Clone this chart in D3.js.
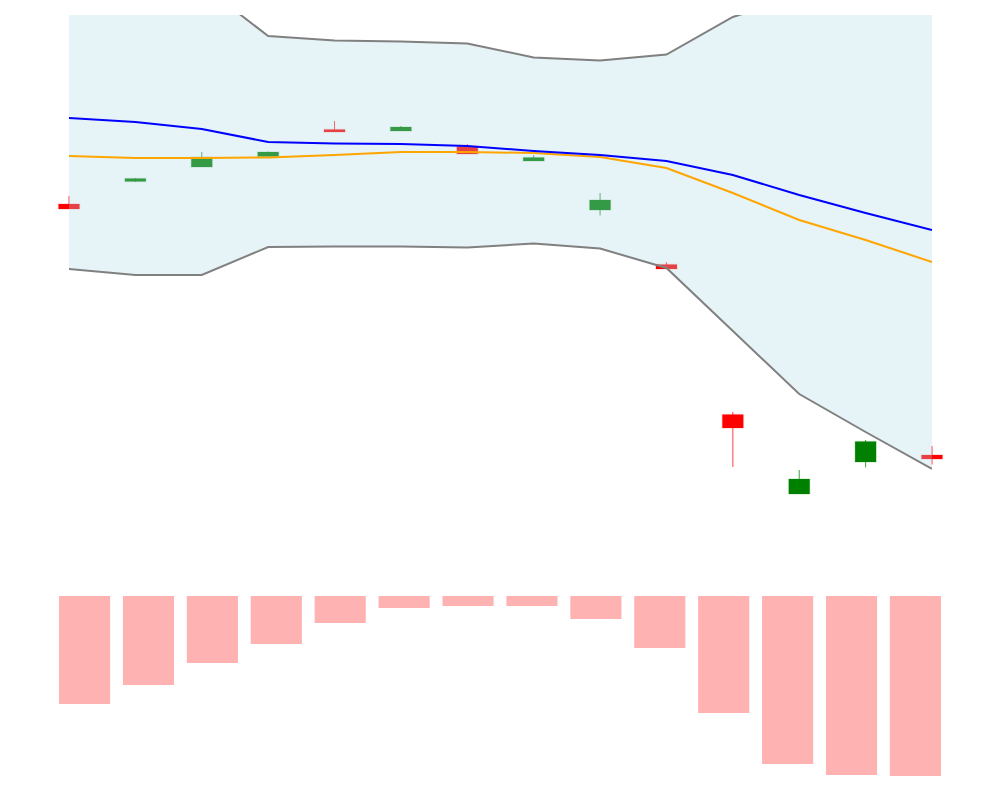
<!DOCTYPE html>
<html>
<head>
<meta charset="utf-8">
<script src="https://cdn.jsdelivr.net/npm/d3@7"></script>
<style>
  html, body { margin: 0; padding: 0; background: #fff; }
  svg { display: block; }
</style>
</head>
<body>
<svg id="chart" width="1000" height="800"></svg>
<script>
// ---- data ----
const days = ["1","2","3","4","5","6","7","8","9","10","11","12","13","14"];
const openV  = [39.6, 41.85, 43.3, 44.35, 47.05, 46.9, 45.35, 43.9, 39.0, 33.55, 18.55, 10.6, 13.8, 14.5];
const closeV = [39.1, 42.15, 44.3, 44.8, 46.8, 47.3, 44.6, 44.25, 40.0, 33.1, 17.2, 12.1, 15.85, 14.1];
const highV  = [40.4, 42.2, 44.8, 44.85, 47.9, 47.4, 45.6, 44.5, 40.7, 33.8, 18.8, 13.0, 16.0, 15.4];
const lowV   = [39.1, 41.8, 43.3, 44.35, 46.8, 46.9, 44.6, 43.9, 38.45, 33.1, 13.3, 10.6, 13.25, 13.55];
const upperBand  = [63.3, 63.1, 61.5, 56.4, 55.95, 55.85, 55.65, 54.25, 53.95, 54.55, 58.3, 60.4, 60.6, 60.9];
const middleBand = [48.2, 47.8, 47.1, 45.8, 45.65, 45.6, 45.4, 44.9, 44.5, 43.9, 42.5, 40.5, 38.7, 37.0];
const lowerBand  = [33.1, 32.5, 32.5, 35.3, 35.35, 35.35, 35.25, 35.65, 35.15, 33.2, 26.9, 20.6, 16.8, 13.1];
const maFast     = [44.4, 44.2, 44.2, 44.25, 44.5, 44.8, 44.8, 44.7, 44.3, 43.2, 40.7, 38.0, 36.0, 33.8];
const histValues = [-1.08, -0.89, -0.67, -0.48, -0.27, -0.12, -0.10, -0.10, -0.23, -0.52, -1.17, -1.68, -1.79, -1.80];

// ---- scales ----
const svg = d3.select("#chart");
const x  = d3.scalePoint().domain(days).range([69, 932]);
const xb = d3.scaleBand().domain(days).range([59, 941]).paddingInner(0.2);
const y  = d3.scaleLinear().domain([8.5, 58.5]).range([515, 15]);
const yv = d3.scaleLinear().domain([-1.8, 0]).range([776, 596]);

const candleW = 21;
const candles = days.map((d, i) => ({d, o: openV[i], c: closeV[i], h: highV[i], l: lowV[i]}));

// clip for band/lines
svg.append("defs").append("clipPath").attr("id", "plotClip")
  .append("rect").attr("x", x(days[0])).attr("y", 15)
  .attr("width", x(days[days.length - 1]) - x(days[0])).attr("height", 560);

// ---- candles ----
const cg = svg.append("g");
cg.selectAll("line.wick").data(candles).join("line")
  .attr("class", "wick")
  .attr("x1", d => x(d.d)).attr("x2", d => x(d.d))
  .attr("y1", d => y(d.h)).attr("y2", d => y(d.l))
  .attr("stroke", d => d.c >= d.o ? "green" : "red")
  .attr("stroke-opacity", 0.75)
  .attr("stroke-width", 1);
cg.selectAll("rect.body").data(candles).join("rect")
  .attr("class", "body")
  .attr("x", d => x(d.d) - candleW / 2)
  .attr("width", candleW)
  .attr("y", d => y(Math.max(d.o, d.c)))
  .attr("height", d => Math.max(1, Math.abs(y(d.o) - y(d.c))))
  .attr("fill", d => d.c >= d.o ? "green" : "red")
  .attr("stroke", d => d.c >= d.o ? "green" : "red")
  .attr("stroke-opacity", 0.15)
  .attr("stroke-width", 1.5);

// ---- bollinger band fill ----
const bandData = days.map((d, i) => ({d, u: upperBand[i], l: lowerBand[i]}));
const area = d3.area().x(d => x(d.d)).y0(d => y(d.l)).y1(d => y(d.u));
const pg = svg.append("g").attr("clip-path", "url(#plotClip)");
pg.append("path").datum(bandData).attr("d", area)
  .attr("fill", "lightblue").attr("fill-opacity", 0.3);

// ---- lines ----
const lineOf = arr => d3.line().x((v, i) => x(days[i])).y(v => y(v))(arr);
const lg = svg.append("g").attr("clip-path", "url(#plotClip)");
lg.append("path").attr("d", lineOf(upperBand))
  .attr("fill", "none").attr("stroke", "gray").attr("stroke-width", 2);
lg.append("path").attr("d", lineOf(lowerBand))
  .attr("fill", "none").attr("stroke", "gray").attr("stroke-width", 2);
lg.append("path").attr("d", lineOf(maFast))
  .attr("fill", "none").attr("stroke", "orange").attr("stroke-width", 2);
lg.append("path").attr("d", lineOf(middleBand))
  .attr("fill", "none").attr("stroke", "blue").attr("stroke-width", 2);

// ---- histogram ----
svg.append("g").selectAll("rect").data(histValues).join("rect")
  .attr("x", (v, i) => xb(days[i]))
  .attr("width", xb.bandwidth())
  .attr("y", v => yv(Math.max(0, v)))
  .attr("height", v => Math.abs(yv(v) - yv(0)))
  .attr("fill", "red").attr("fill-opacity", 0.3);
</script>
</body>
</html>
